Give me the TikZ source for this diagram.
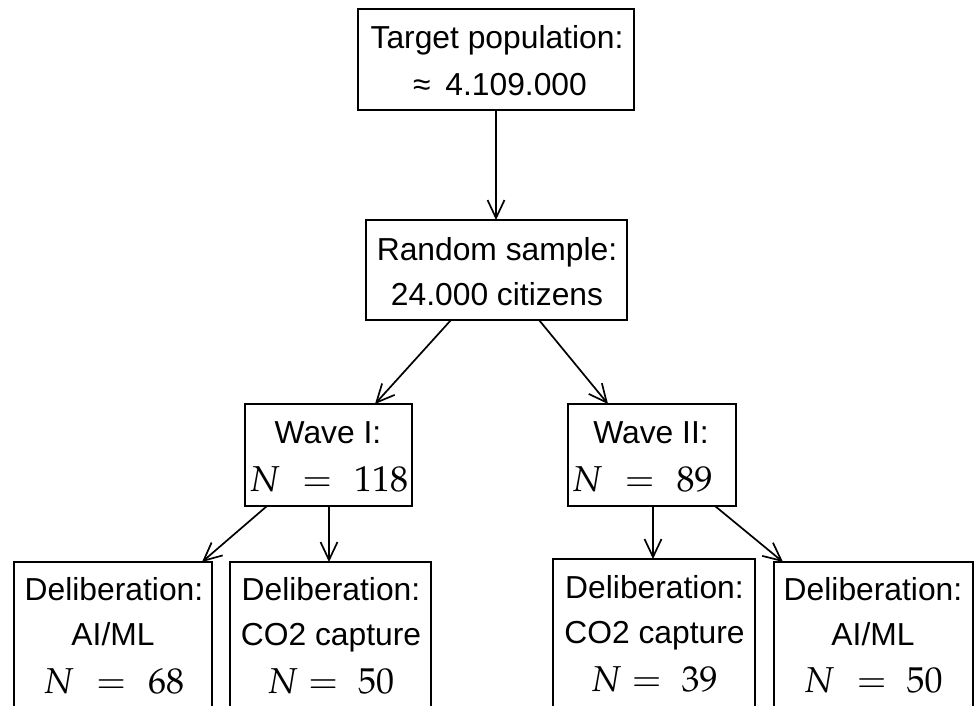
\documentclass[tikz,border=0pt]{standalone}
\usepackage{mathpazo}
\usepackage[no-math]{fontspec}
\setmainfont{Liberation Sans}
\usetikzlibrary{arrows.meta,calc}
\tikzset{
  box/.style={draw, line width=1.8pt, rectangle, anchor=north west, inner sep=0pt, outer sep=0pt, minimum height=#1},
  box/.default=101pt,
  txt/.style={anchor=base, inner sep=0pt, font=\fontsize{31.8}{38}\selectfont},
  mth/.style={anchor=base, inner sep=0pt, font=\fontsize{36}{40}\selectfont},
  arr/.style={line width=1.7pt, -{Straight Barb[length=18pt,width=17pt,line width=1.7pt]}}
}
\begin{document}
\begin{tikzpicture}[x=1pt,y=-1pt]
\useasboundingbox (0,0) rectangle (974,705);
\fill[white] (0,0) rectangle (974,705);
\clip (0,0) rectangle (974,705);
% boxes
\node[box=101pt, minimum width=276pt] (t) at (358,9) {};
\node[box=100pt, minimum width=261pt] (r) at (366,220) {};
\node[box=102pt, minimum width=167pt] (w1) at (245,404) {};
\node[box=102pt, minimum width=168pt] (w2) at (568,404) {};
\node[box=200pt, minimum width=198pt] (l1) at (14,562) {};
\node[box=200pt, minimum width=201pt] (l2) at (230,562) {};
\node[box=200pt, minimum width=202pt] (r1) at (553,559) {};
\node[box=200pt, minimum width=199pt] (r2) at (774,562) {};
% texts
\node[txt] (t1) at (497,48) {Target population:};
\node[txt] (t2) at (500,95) {≈\hspace{6pt} 4.109.000};
\node[txt] (r1a) at (497,260) {Random sample:};
\node[txt] (r1b) at (497,305) {24.000 citizens};
\node[txt] (w1a) at (328,443) {Wave I:};
\node[mth] (w1b) at (328.5,491) {$N\mskip6mu=\mskip6mu118$};
\node[txt] (w2a) at (651,443) {Wave II:};
\node[mth] (w2b) at (642,491) {$N\mskip6mu=\mskip6mu89$};
\node[txt] (l1a) at (114,600) {Deliberation:};
\node[txt] (l1b) at (113,645) {AI/ML};
\node[mth] (l1c) at (113.5,693) {$N\mskip6mu=\mskip6mu68$};
\node[txt] (l2a) at (331,600) {Deliberation:};
\node[txt] (l2b) at (331,645) {CO2 capture};
\node[mth] (l2c) at (330.5,693) {$N=\mskip5mu50$};
\node[txt] (r1x) at (654.5,598) {Deliberation:};
\node[txt] (r1y) at (654.5,643) {CO2 capture};
\node[mth] (r1z) at (654,691) {$N=\mskip5mu39$};
\node[txt] (r2x) at (873,600) {Deliberation:};
\node[txt] (r2y) at (873,645) {AI/ML};
\node[mth] (r2z) at (873,692) {$N\mskip6mu=\mskip5mu50$};
% arrows
\draw[arr] (t.south) -- (t.south |- r.north);
\draw[arr] ([xshift=85pt]r.south west) -- ([xshift=130pt]w1.north west);
\draw[arr] ([xshift=173pt]r.south west) -- ([xshift=40pt]w2.north west);
\draw[arr] ([xshift=22pt]w1.south west) -- ([xshift=188pt]l1.north west);
\draw[arr] ([xshift=84pt]w1.south west) -- ([xshift=99pt]l2.north west);
\draw[arr] ([xshift=85pt]w2.south west) -- ([xshift=100pt]r1.north west);
\draw[arr] ([xshift=147pt]w2.south west) -- ([xshift=9pt]r2.north west);
\end{tikzpicture}
\end{document}
